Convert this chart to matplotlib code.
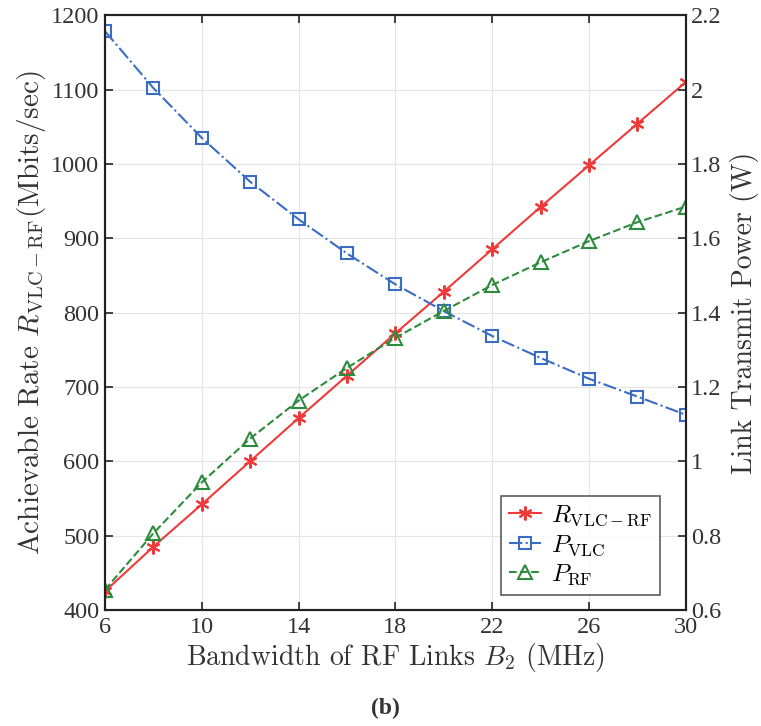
import matplotlib.pyplot as plt
from matplotlib.lines import Line2D

plt.rcParams['mathtext.fontset'] = 'cm'
plt.rcParams['font.family'] = ['Liberation Serif', 'DejaVu Serif']
plt.rcParams['axes.unicode_minus'] = False

# bandwidth of RF links (MHz)
bw = [6, 8, 10, 12, 14, 16, 18, 20, 22, 24, 26, 28, 30]
# achievable rate (Mbits/sec), left axis
rate = [425, 485, 542, 600, 658, 715, 772, 828, 885, 942, 998, 1054, 1110]
# transmit powers (W), right axis
p_vlc = [2.157, 2.004, 1.870, 1.752, 1.651, 1.559, 1.476, 1.404,
         1.337, 1.278, 1.222, 1.174, 1.125]
p_rf = [0.654, 0.806, 0.943, 1.061, 1.163, 1.251, 1.332, 1.404,
        1.474, 1.535, 1.592, 1.643, 1.685]

C_RED = '#f03a3a'
C_BLUE = '#3a6cc4'
C_GREEN = '#2e8b3e'

fig = plt.figure(figsize=(7.61, 7.26), dpi=100)
ax = fig.add_axes([0.138, 0.160, 0.763, 0.819])
ax2 = ax.twinx()

ax.plot(bw, rate, '-', color=C_RED, lw=1.5, marker=(6, 2, 0), ms=10,
        mew=1.5, zorder=3)
ax2.plot(bw, p_vlc, '-.', color=C_BLUE, lw=1.5, marker='s', ms=8,
         mfc='none', mew=1.5)
ax2.plot(bw, p_rf, '--', color=C_GREEN, lw=1.5, marker='^', ms=10,
         mfc='none', mew=1.5)

ax.set_xlim(6, 30)
ax.set_ylim(400, 1200)
ax2.set_ylim(0.6, 2.2)
ax.set_xticks([6, 10, 14, 18, 22, 26, 30])
ax.set_yticks(range(400, 1201, 100))
ax2.set_yticks([0.6, 0.8, 1.0, 1.2, 1.4, 1.6, 1.8, 2.0, 2.2])
ax2.set_yticklabels(['0.6', '0.8', '1', '1.2', '1.4', '1.6', '1.8', '2', '2.2'])

ax.grid(True, color='#e4e4e4', lw=0.8)
ax.tick_params(direction='in', labelsize=17.5, top=True, length=6, width=1.2,
               colors='#222222', pad=5)
ax.tick_params(axis='y', pad=4)
ax2.tick_params(direction='in', labelsize=17.5, length=6, width=1.2,
                colors='#222222', pad=4)
for t in ax.get_xticklabels() + ax.get_yticklabels() + ax2.get_yticklabels():
    t.set_color('#333333')
for a in (ax, ax2):
    for s in a.spines.values():
        s.set_linewidth(1.5)
        s.set_color('#222222')

lab = dict(fontsize=20, color='#333333', family='cmr10')
ax.set_xlabel(r'Bandwidth of RF Links $B_2$ (MHz)', labelpad=2, **lab)
ax.set_ylabel(r'Achievable Rate $R_{\mathrm{VLC-RF}}$(Mbits/sec)', labelpad=2,
              fontsize=21, color='#333333', family='cmr10')
ax2.set_ylabel('Link Transmit Power (W)', labelpad=6, **lab)

handles = [
    Line2D([], [], color=C_RED, ls='-', lw=1.5, marker=(6, 2, 0), ms=10, mew=1.5),
    Line2D([], [], color=C_BLUE, ls='-.', lw=1.5, marker='s', ms=8, mfc='none', mew=1.5),
    Line2D([], [], color=C_GREEN, ls='--', lw=1.5, marker='^', ms=10, mfc='none', mew=1.5),
]
labels = [r'$R_{\mathrm{VLC-RF}}$', r'$P_{\mathrm{VLC}}$', r'$P_{\mathrm{RF}}$']
leg = ax2.legend(handles, labels, loc='lower right', bbox_to_anchor=(0.955, 0.025),
                 borderaxespad=0, fontsize=18, frameon=True, fancybox=False,
                 edgecolor='#333333', handlelength=1.3, handletextpad=0.4,
                 borderpad=0.3, labelspacing=0.2)
leg.get_frame().set_linewidth(1.2)

fig.text(0.506, 0.01, '(b)', ha='center', va='bottom', fontsize=17,
         fontweight='bold', color='#333333')

fig.savefig('out.png', dpi=100)
